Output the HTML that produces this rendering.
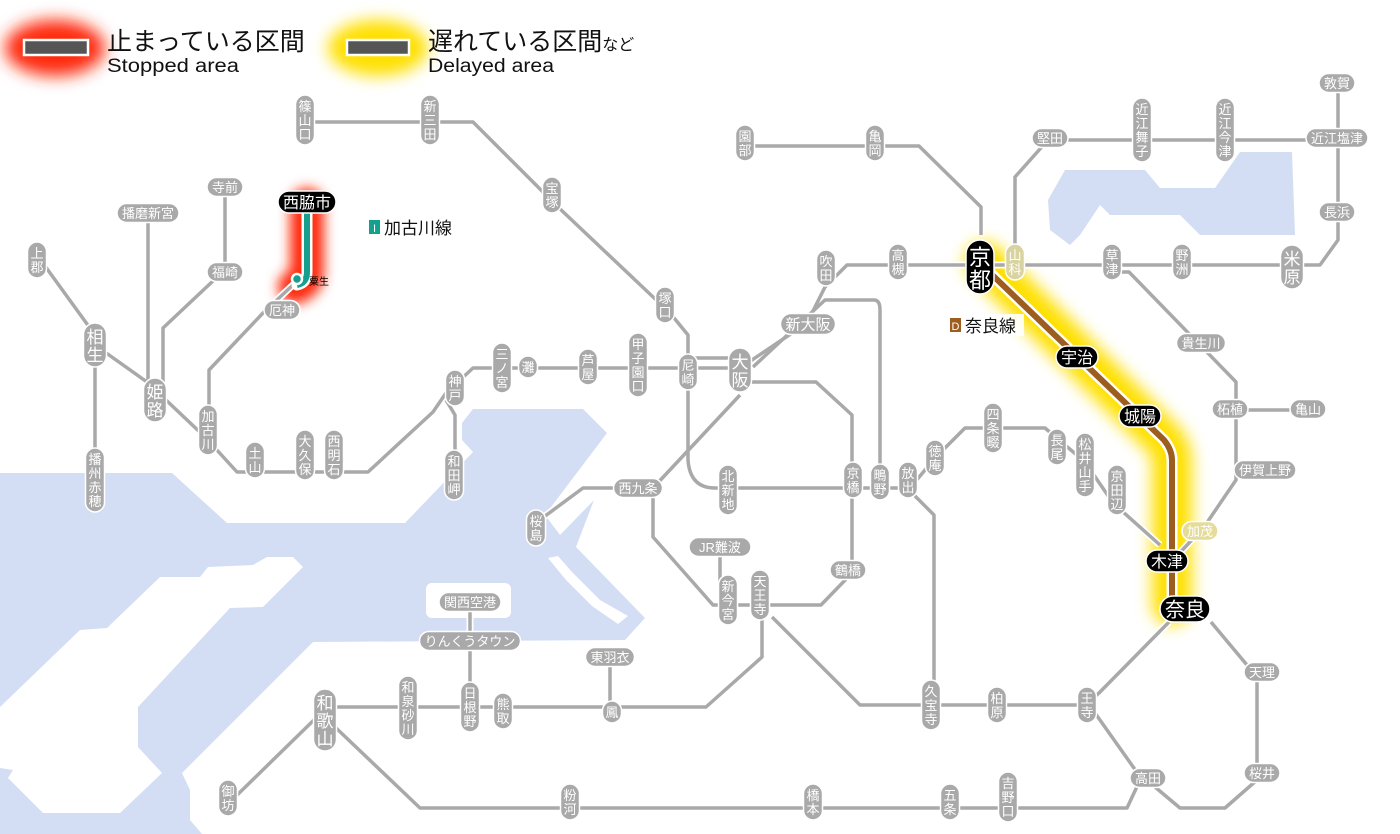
<!DOCTYPE html>
<html><head><meta charset="utf-8"><style>
html,body{margin:0;padding:0;background:#fff;width:1400px;height:834px;overflow:hidden}
svg{display:block}
text{font-family:"Liberation Sans","Noto Sans CJK JP",sans-serif}
</style></head><body>
<svg id="s" width="1400" height="834" viewBox="0 0 1400 834" xmlns="http://www.w3.org/2000/svg">
<defs>
<filter id="b6" filterUnits="userSpaceOnUse" x="0" y="0" width="1400" height="834"><feGaussianBlur stdDeviation="6"/></filter>
<filter id="b8" filterUnits="userSpaceOnUse" x="0" y="0" width="1400" height="834"><feGaussianBlur stdDeviation="8"/></filter>
</defs>
<!-- water -->
<polygon fill="#d3def4" points="0,473 172,473 227,523 405,523 473,452 462,440 462,423 473,409 583,409 607,433 545,515 560,535 594,500 576,547 645,618 625,640 313,642 182,773 190,790 190,820 202,834 0,834"/>
<polygon fill="#fff" points="0,707 80,630 107,628 160,577 200,577 208,567 253,565 267,557 293,557 303,567 263,607 230,608 138,707 138,747 162,773 120,813 43,813 8,778 13,770 0,768"/>
<rect x="426" y="583" width="85" height="35" rx="6" fill="#fff"/>
<polygon fill="#fff" points="548,558 558,556 572,572 600,600 628,616 618,624 592,606 566,580"/>
<polygon fill="#d3def4" points="1048,200 1065,170 1145,170 1160,188 1215,188 1240,152 1292,152 1295,235 1200,235 1180,215 1110,215 1100,205 1080,235 1070,245 1050,230"/>
<!-- legend -->
<ellipse cx="55" cy="48" rx="50" ry="28" fill="#ff2a10" filter="url(#b8)"/>
<rect x="24" y="40" width="64" height="15" fill="#555" stroke="#fff" stroke-width="2.5"/>
<text x="107" y="50" font-size="25" fill="#111">止まっている区間</text>
<text x="107" y="72" font-size="19" fill="#111" textLength="132" lengthAdjust="spacingAndGlyphs">Stopped area</text>
<ellipse cx="378" cy="48" rx="50" ry="28" fill="#ffe000" filter="url(#b8)"/>
<rect x="347" y="40" width="62" height="15" fill="#555" stroke="#fff" stroke-width="2.5"/>
<text x="428" y="50" font-size="25" fill="#111">遅れている区間<tspan font-size="16">など</tspan></text>
<text x="428" y="72" font-size="19" fill="#111" textLength="126" lengthAdjust="spacingAndGlyphs">Delayed area</text>
<!-- glows -->
<path d="M307,205 V272 Q307,283 295,287" fill="none" stroke="#ff2a10" stroke-width="34" stroke-linecap="round" filter="url(#b6)"/>
<path d="M985,262 L1164,440 Q1172,450 1172,460 V605" fill="none" stroke="#ffe000" stroke-width="40" stroke-linecap="round" filter="url(#b8)"/>
<g id="lines" fill="none" stroke-linejoin="round"></g>
<g id="st"></g>
</svg>
<script>
var ns="http://www.w3.org/2000/svg",L=document.getElementById('lines'),S=document.getElementById('st');
function el(p,tag,a,txt){var e=document.createElementNS(ns,tag);for(var k in a)e.setAttribute(k,a[k]);if(txt)e.textContent=txt;p.appendChild(e);return e;}
var paths=[
"M305,122 H473 L558,207 L670,313 L688,335 V460 Q690,488 715,488 H910 L935,458 L965,428 H1045 L1085,462 L1113,503 L1160,545",
"M37,255 L95,335 V345 L147,382 L205,437 L237,472 H368 L433,412 L446,393 L473,368 H740 L807,323 L825,287 L847,265 H1320 L1338,240 V83",
"M688,358 H740",
"M95,345 V480","M148,213 V400","M225,187 V272 L214,280 L163,328 V400",
"M209,430 V370 L263,313 L295,283",
"M446,400 L455,415 V470",
"M740,382 H816 L852,415 V573 L821,605 H713 L653,537 V488 L740,395",
"M753,367 L825,300 H874 Q880,300 880,310 V482",
"M720,555 V590 L735,605",
"M614,488 H583 L537,522",
"M762,615 V657 L706,707 H325","M470,602 V707","M610,660 V707",
"M772,617 L860,705 H1085 L1099,693 L1169,622",
"M909,490 L934,515 V690",
"M335,727 L420,808 H1127 L1141,778 L1095,713",
"M1155,787 L1180,808 H1225 L1257,780 V677 L1211,622",
"M317,717 L232,800",
"M745,146 H919 L981,207 V235",
"M1015,262 V177 L1048,140 H1337",
"M1112,272 H1129 L1236,382 V480 L1204,527 L1173,560",
"M1240,410 H1308"
];
paths.forEach(function(d){el(L,'path',{d:d,stroke:'#fff','stroke-width':7});});
paths.forEach(function(d){el(L,'path',{d:d,stroke:'#a9a9a9','stroke-width':3.5});});
el(L,'path',{d:"M985,268 L1164,440 Q1172,450 1172,460 V605",stroke:'#fff','stroke-width':11});
el(L,'path',{d:"M985,268 L1164,440 Q1172,450 1172,460 V605",stroke:'#9c5d1e','stroke-width':6});
el(L,'path',{d:"M307,205 V272 Q307,283 297,285",stroke:'#fff','stroke-width':11,'stroke-linecap':'round'});
el(L,'path',{d:"M307,205 V272 Q307,283 297,285",stroke:'#14a08c','stroke-width':6});
el(S,'circle',{cx:297,cy:279,r:5,fill:'#14a08c',stroke:'#fff','stroke-width':2.5});
el(S,'text',{x:309,y:285,'font-size':10,fill:'#000'},'粟生');
function vs(n,x,y,fs,fill){fs=fs||13;fill=fill||'#a9a9a9';var c=n.length,step=fs+1,h=c*step+8,w=fs+6;
 el(S,'rect',{x:x-w/2,y:y-h/2,width:w,height:h,rx:w/2,fill:fill,stroke:'#fff','stroke-width':1.5});
 for(var i=0;i<c;i++)el(S,'text',{x:x,y:y-h/2+4+step*(i+1)-2,'font-size':fs,fill:'#fff','text-anchor':'middle'},n[i]);}
function hs(n,x,y,fs,fill){fs=fs||13;fill=fill||'#a9a9a9';var w=n.length*fs+10,h=fs+6;
 el(S,'rect',{x:x-w/2,y:y-h/2,width:w,height:h,rx:h/2,fill:fill,stroke:'#fff','stroke-width':1.5});
 el(S,'text',{x:x,y:y+fs*0.38,'font-size':fs,fill:'#fff','text-anchor':'middle'},n);}
[["篠山口",305,120],["新三田",430,120],["宝塚",552,195],["塚口",665,305],["尼崎",688,372],["甲子園口",638,365],["芦屋",588,367],["灘",528,367],["三ノ宮",502,368],["神戸",455,388],["和田岬",454,475],["西明石",334,455],["大久保",305,455],["土山",255,460],["加古川",208,430],["上郡",37,260],["播州赤穂",95,480],["吹田",826,268],["高槻",898,262],["亀岡",875,143],["園部",745,143],["草津",1112,262],["野洲",1182,262],["近江舞子",1142,130],["近江今津",1225,130],["北新地",728,490],["京橋",853,480],["鴫野",880,482],["放出",908,480],["徳庵",935,458],["四条畷",993,428],["長尾",1057,447],["松井山手",1085,465],["京田辺",1117,490],["桜島",536,528],["新今宮",728,600],["天王寺",760,595],["和泉砂川",408,708],["日根野",470,707],["熊取",503,711],["鳳",612,712],["久宝寺",931,705],["柏原",997,705],["王寺",1087,705],["御坊",228,798],["粉河",570,802],["橋本",813,802],["五条",950,802],["吉野口",1008,797]].forEach(function(a){vs(a[0],a[1],a[2]);});
[["相生",95,345],["姫路",155,400],["大阪",740,370],["米原",1292,267],["和歌山",325,720]].forEach(function(a){vs(a[0],a[1],a[2],17);});
vs("山科",1015,262,13,'#d9d3a0');
[["寺前",225,187],["播磨新宮",148,213],["福崎",225,272],["厄神",282,310],["西九条",638,488],["JR難波",720,547],["鶴橋",848,570],["関西空港",470,602],["りんくうタウン",470,641],["東羽衣",610,657],["堅田",1050,138],["敦賀",1337,83],["近江塩津",1337,138],["長浜",1337,212],["貴生川",1201,343],["柘植",1230,409],["亀山",1308,409],["伊賀上野",1265,470],["天理",1262,672],["桜井",1262,773],["高田",1148,778]].forEach(function(a){hs(a[0],a[1],a[2]);});
hs("新大阪",808,324,15);
hs("加茂",1200,531,13,'#e6dc9a');
vs("京都",980,267,22,'#000');
hs("宇治",1077,357,16,'#000');hs("城陽",1140,416,16,'#000');hs("木津",1167,561,16,'#000');
hs("奈良",1185,609,20,'#000');hs("西脇市",307,202,16,'#000');
el(S,'rect',{x:365,y:216,width:98,height:22,fill:'#fff',opacity:.9});
el(S,'rect',{x:369,y:220,width:11,height:14,fill:'#14a08c'});
el(S,'text',{x:374.5,y:232,'font-size':11,fill:'#fff','text-anchor':'middle'},'I');
el(S,'text',{x:384,y:234,'font-size':17,fill:'#111'},'加古川線');
el(S,'rect',{x:946,y:314,width:78,height:22,fill:'#fff',opacity:.9});
el(S,'rect',{x:950,y:318,width:11,height:14,fill:'#9c5d1e'});
el(S,'text',{x:955.5,y:330,'font-size':11,fill:'#fff','text-anchor':'middle'},'D');
el(S,'text',{x:965,y:332,'font-size':17,fill:'#111'},'奈良線');
</script>
</body></html>
